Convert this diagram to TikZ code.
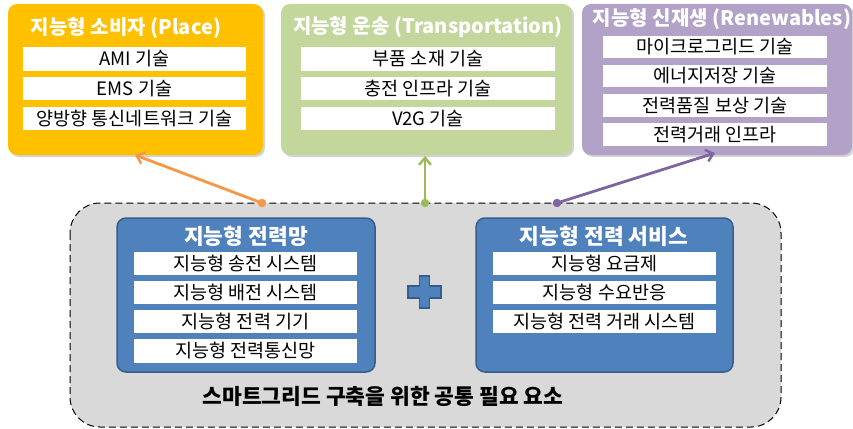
\documentclass[tikz,border=0pt]{standalone}
\usepackage{fontspec}
\setmainfont{Noto Sans CJK KR}
\usetikzlibrary{arrows.meta,shadows}
\definecolor{gold}{HTML}{FFC000}
\definecolor{lgreen}{HTML}{C3D69B}
\definecolor{lpurple}{HTML}{B3A2C7}
\definecolor{oline}{HTML}{F79646}
\definecolor{gline}{HTML}{9BBB59}
\definecolor{pline}{HTML}{8064A2}
\definecolor{bfill}{HTML}{4F81BD}
\definecolor{bline}{HTML}{385D8A}
\definecolor{bggray}{HTML}{D9D9D9}
\tikzset{
  topbox/.style={rounded corners=9pt, drop shadow={opacity=0.35, shadow xshift=2pt, shadow yshift=-2pt}},
  rowbox/.style={fill=white, inner sep=0pt, font=\fontsize{18.5}{18.5}\selectfont},
  ttl/.style={text=white, font=\bfseries\fontsize{20}{20}\selectfont, inner sep=0pt},
  bttl/.style={ttl, font=\bfseries\fontsize{21.5}{21.5}\selectfont},
  bluebox/.style={fill=bfill, draw=bline, line width=1.5pt, rounded corners=9pt},
  conn/.style={line width=2.8pt, -{Straight Barb[length=7pt,width=12pt,line width=2.4pt]}},
  dot/.style={circle, inner sep=0pt, minimum size=8.5pt},
}
\begin{document}
\begin{tikzpicture}[x=1pt,y=-1pt]
\useasboundingbox (0,0) rectangle (853,428);
% bottom region
\draw[fill=bggray, dashed, dash pattern=on 7pt off 4pt, line width=1pt, rounded corners=30pt] (70,203) rectangle (781,427);
% top boxes
\fill[gold, topbox] (8,4) rectangle (263,155);
\fill[lgreen, topbox] (281,4) rectangle (572,155);
\fill[lpurple, topbox] (582,4) rectangle (852,155);
\node (oa) at (135,155) {};
\node (ga) at (425,156) {};
\node (pa) at (715,153) {};
% titles
\node[ttl] (t1) at (126,28) {지능형 소비자 (Place)};
\node[ttl] (t2) at (428,27) {지능형 운송 (Transportation)};
\node[ttl] (t3) at (722,19) {지능형 신재생 (Renewables)};
% rows left
\path[rowbox] (23,47) rectangle (246,71) node[midway] (r11) {AMI 기술};
\path[rowbox] (23,77) rectangle (246,100) node[midway] (r12) {EMS 기술};
\path[rowbox] (23,107) rectangle (246,130) node[midway] (r13) {양방향 통신네트워크 기술};
% rows middle
\path[rowbox] (301,47) rectangle (555,71) node[midway] (r21) {부품 소재 기술};
\path[rowbox] (301,77) rectangle (555,100) node[midway] (r22) {충전 인프라 기술};
\path[rowbox] (301,107) rectangle (555,130) node[midway] (r23) {V2G 기술};
% rows right
\path[rowbox] (603,36) rectangle (827,58) node[midway] (r31) {마이크로그리드 기술};
\path[rowbox] (603,65) rectangle (827,87) node[midway] (r32) {에너지저장 기술};
\path[rowbox] (603,94) rectangle (827,117) node[midway] (r33) {전력품질 보상 기술};
\path[rowbox] (603,123) rectangle (827,146) node[midway] (r34) {전력거래 인프라};
% blue boxes
\draw[bluebox] (117,218) rectangle (375,372);
\draw[bluebox] (476,218) rectangle (733,372);
\node[bttl] (b1) at (246,236) {지능형 전력망};
\node[bttl] (b2) at (604,236) {지능형 전력 서비스};
\path[rowbox] (134,252) rectangle (357,275) node[midway] (s11) {지능형 송전 시스템};
\path[rowbox] (134,281) rectangle (357,304) node[midway] (s12) {지능형 배전 시스템};
\path[rowbox] (134,310) rectangle (357,333) node[midway] (s13) {지능형 전력 기기};
\path[rowbox] (134,339) rectangle (357,363) node[midway] (s14) {지능형 전력통신망};
\path[rowbox] (493,252) rectangle (716,275) node[midway] (s21) {지능형 요금제};
\path[rowbox] (493,281) rectangle (716,304) node[midway] (s22) {지능형 수요반응};
\path[rowbox] (493,310) rectangle (716,333) node[midway] (s23) {지능형 전력 거래 시스템};
% plus
\draw[fill=bfill, draw=bline, line width=1.5pt]
  (419.5,276) -- (429.5,276) -- (429.5,286) -- (441,286) -- (441,298) -- (429.5,298) -- (429.5,308)
  -- (419.5,308) -- (419.5,298) -- (408,298) -- (408,286) -- (419.5,286) -- cycle;
% bottom label
\node[font=\bfseries\fontsize{21.5}{21.5}\selectfont, inner sep=0pt] (lbl) at (383,396) {스마트그리드 구축을 위한 공통 필요 요소};
% connectors
\node[dot, fill=oline] (od) at (262,203) {};
\node[dot, fill=gline] (gd) at (425,203) {};
\node[dot, fill=pline] (pd) at (557,203) {};
\draw[conn, oline] (od.center) -- (oa.center);
\draw[conn, gline] (gd.center) -- (ga.center);
\draw[conn, pline] (pd.center) -- (pa.center);
\end{tikzpicture}
\end{document}
